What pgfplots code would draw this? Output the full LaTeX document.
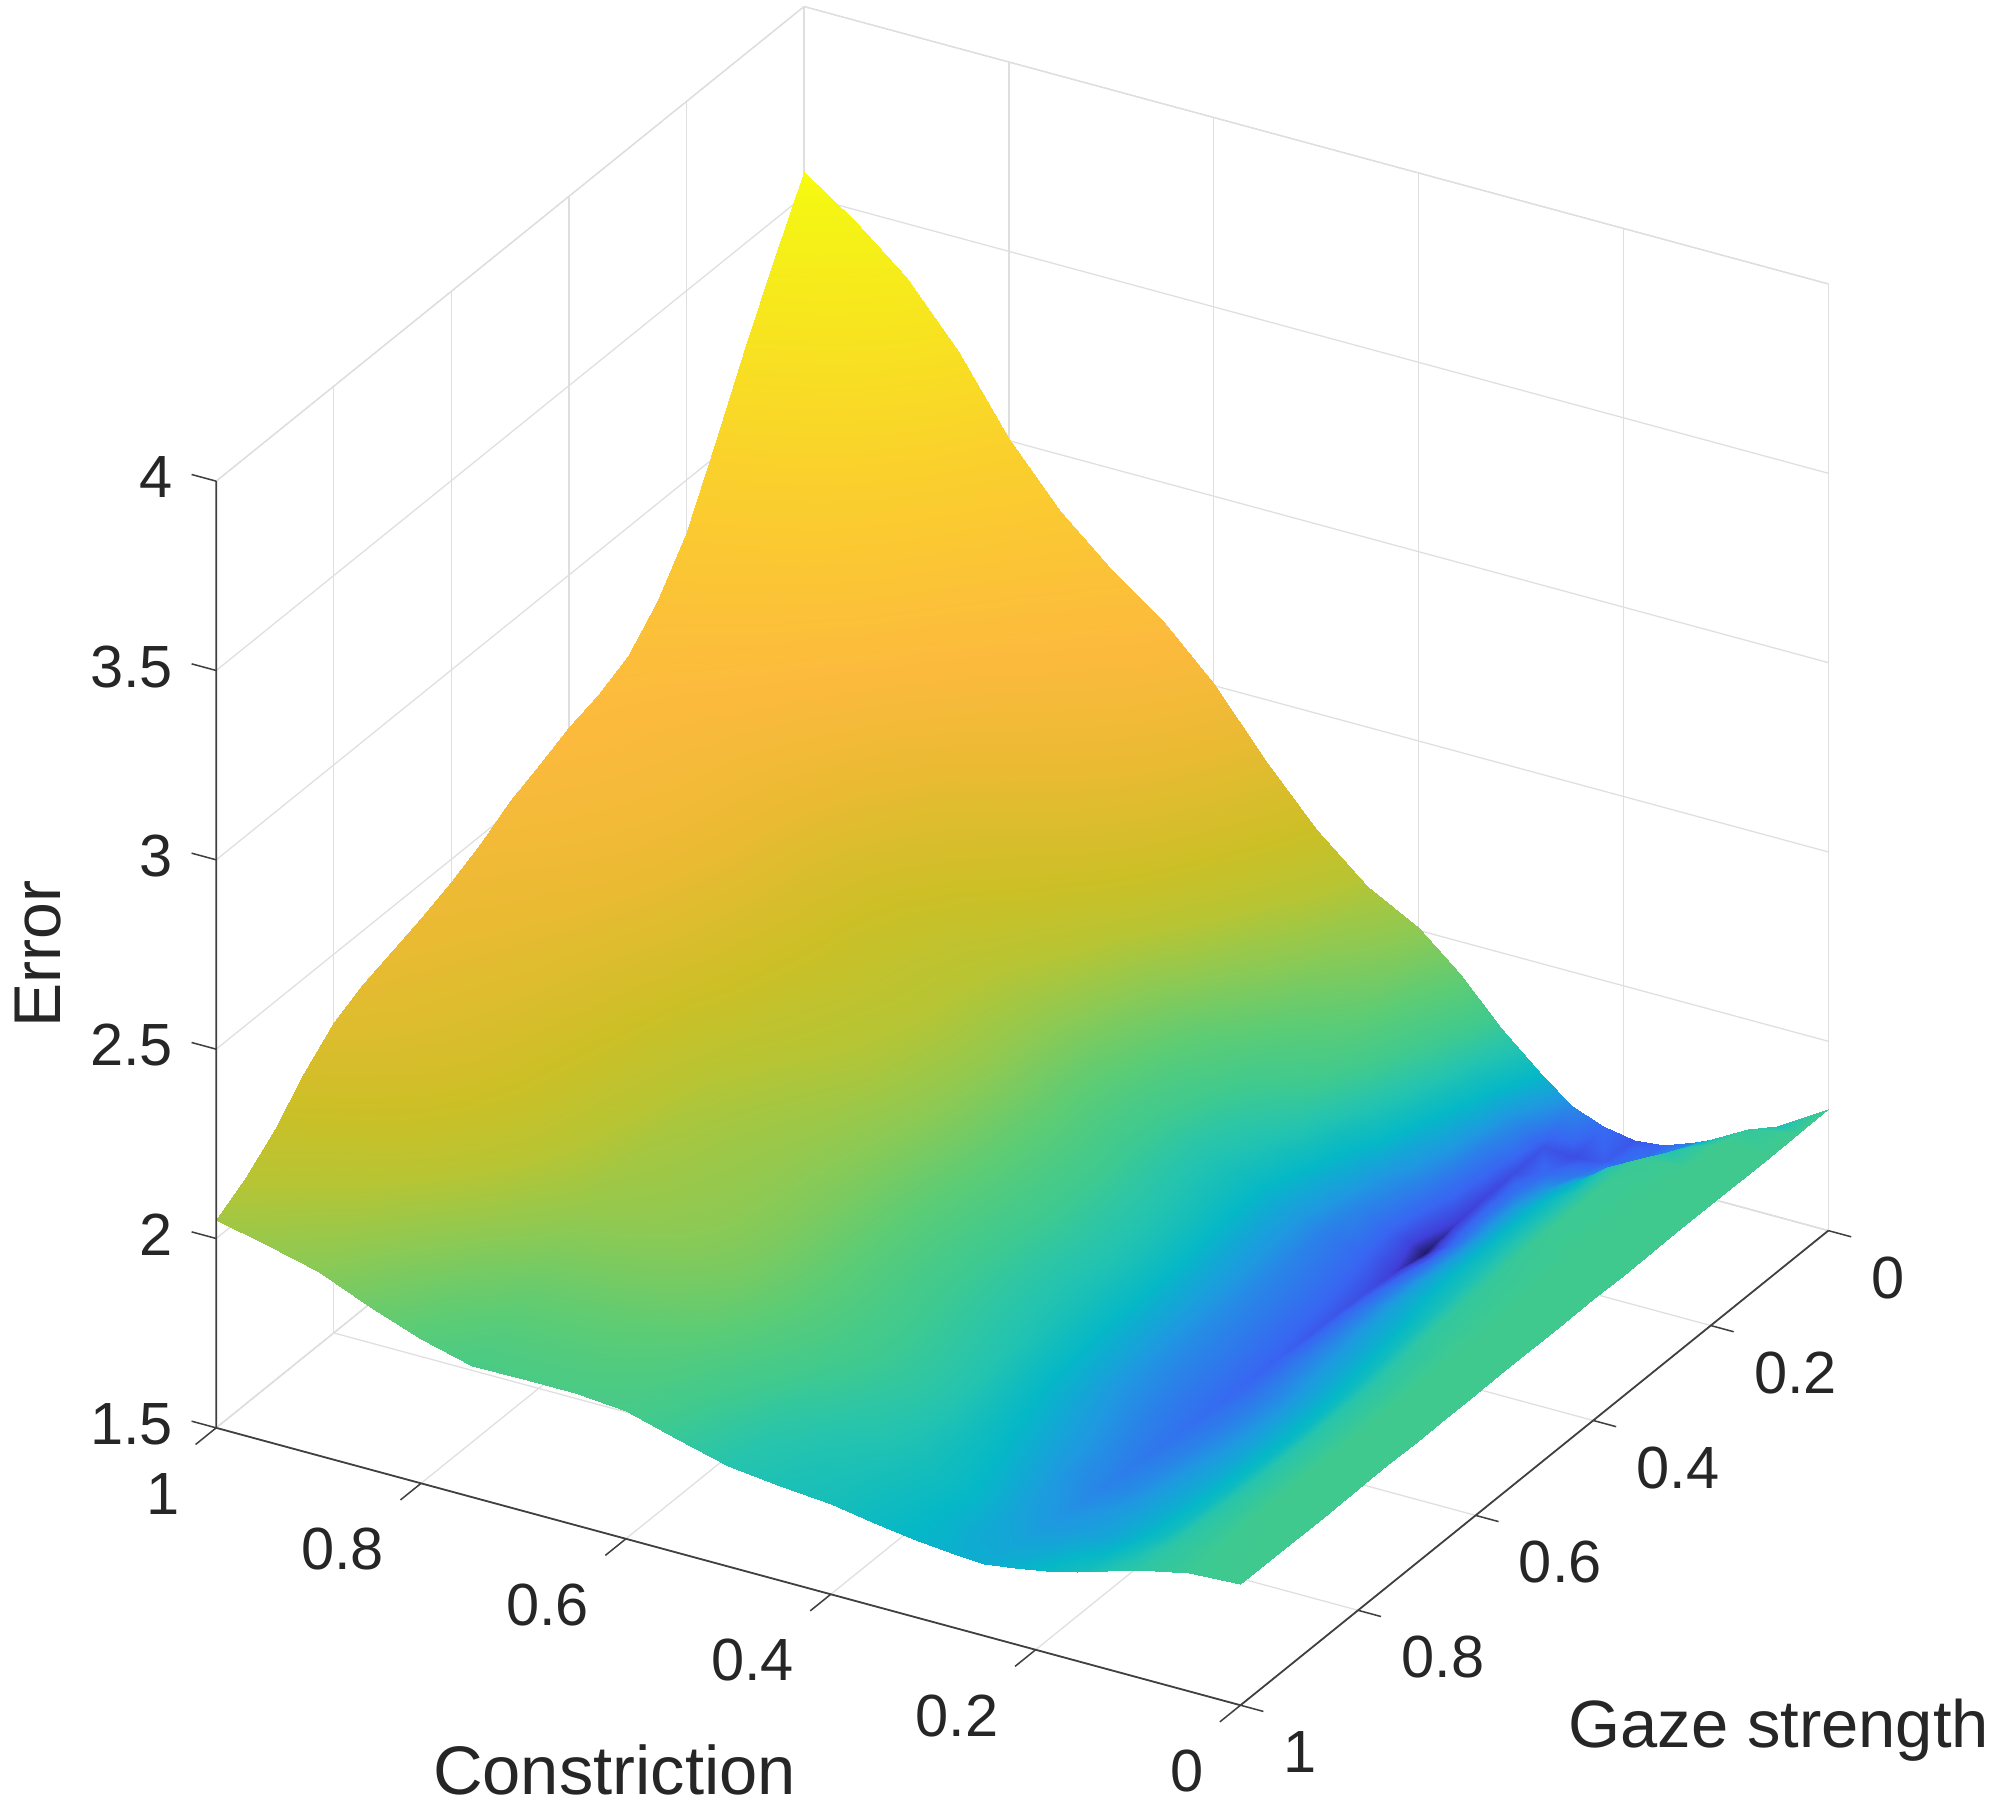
\documentclass[border=0pt]{standalone}
\usepackage{fontspec}
\setmainfont{Liberation Sans}
\usepackage{pgfplots}
\pgfplotsset{compat=1.18}
\definecolor{axdark}{gray}{0.25}
\definecolor{txt}{gray}{0.15}
\newcommand{\tickfont}{\fontsize{23.4}{28}\selectfont}
\begin{document}
\begin{tikzpicture}
\begin{axis}[
  x={(-402.5pt,109pt)}, y={(-231pt,-186.5pt)}, z={(0pt,148.8pt)},
  xmin=0, xmax=1, ymin=0, ymax=1, zmin=1.5, zmax=4,
  xtick={0,0.2,0.4,0.6,0.8,1}, ytick={0,0.2,0.4,0.6,0.8,1}, ztick={1.5,2,2.5,3,3.5,4},
  grid=major,
  grid style={line width=0.5pt, gray!25},
  axis line style={line width=0.5pt, gray!30},
  tick style={draw=none},
  major tick length=0pt,
  tick pos=left,
  clip=false,
  scaled ticks=false,
  /pgf/number format/assume math mode=true,
  /pgf/number format/fixed,
  ticklabel style={font=\tickfont, text=txt},
  xticklabel style={anchor=east, xshift=-11pt, yshift=-26pt},
  yticklabel style={anchor=west, xshift=13.5pt, yshift=-18.5pt},
  zticklabel style={anchor=east, xshift=-13.5pt, yshift=1.5pt},
  colormap={err}{
    rgb(0pt)=(0.13,0.10,0.40)
    rgb(15pt)=(0.25,0.25,0.85)
    rgb(38pt)=(0.22,0.40,0.95)
    rgb(90pt)=(0.12,0.60,0.88)
    rgb(135pt)=(0.02,0.72,0.78)
    rgb(195pt)=(0.15,0.77,0.68)
    rgb(248pt)=(0.25,0.79,0.56)
    rgb(325pt)=(0.36,0.80,0.46)
    rgb(425pt)=(0.55,0.79,0.33)
    rgb(525pt)=(0.72,0.77,0.20)
    rgb(625pt)=(0.80,0.75,0.15)
    rgb(825pt)=(0.92,0.73,0.20)
    rgb(1025pt)=(0.99,0.73,0.24)
    rgb(1425pt)=(0.98,0.82,0.17)
    rgb(1925pt)=(0.96,0.96,0.08)
    rgb(1991pt)=(0.976,0.983,0.054)
  },
  point meta min=1.572, point meta max=3.563,
]
\addplot3[surf, shader=interp, z buffer=sort, mesh/rows=21, mesh/cols=24] table[row sep=\\] {
0 0 1.82\\ .05 0 1.74\\ .1 0 1.675\\ .13 0 1.64\\ .16 0 1.61\\ .19 0 1.60\\ .22 0 1.615\\ .25 0 1.645\\ .28 0 1.705\\ .32 0 1.80\\ .36 0 1.915\\ .4 0 2.005\\ .45 0 2.08\\ .5 0 2.195\\ .55 0 2.34\\ .6 0 2.505\\ .65 0 2.635\\ .7 0 2.735\\ .75 0 2.85\\ .8 0 3.005\\ .85 0 3.20\\ .9 0 3.36\\ .95 0 3.47\\ 1 0 3.563\\
0 .05 1.82\\ .05 .05 1.795\\ .1 .05 1.72\\ .13 .05 1.66\\ .16 .05 1.625\\ .19 .05 1.605\\ .22 .05 1.595\\ .25 .05 1.60\\ .28 .05 1.655\\ .32 .05 1.75\\ .36 .05 1.855\\ .4 .05 1.957\\ .45 .05 2.024\\ .5 .05 2.13\\ .55 .05 2.265\\ .6 .05 2.419\\ .65 .05 2.539\\ .7 .05 2.63\\ .75 .05 2.735\\ .8 .05 2.879\\ .85 .05 3.063\\ .9 .05 3.213\\ .95 .05 3.315\\ 1 .05 3.40\\
0 .1 1.82\\ .05 .1 1.82\\ .1 .1 1.76\\ .13 .1 1.70\\ .16 .1 1.66\\ .19 .1 1.63\\ .22 .1 1.615\\ .25 .1 1.595\\ .28 .1 1.635\\ .32 .1 1.715\\ .36 .1 1.805\\ .4 .1 1.903\\ .45 .1 1.962\\ .5 .1 2.058\\ .55 .1 2.183\\ .6 .1 2.326\\ .65 .1 2.434\\ .7 .1 2.515\\ .75 .1 2.609\\ .8 .1 2.742\\ .85 .1 2.913\\ .9 .1 3.053\\ .95 .1 3.146\\ 1 .1 3.224\\
0 .15 1.82\\ .05 .15 1.82\\ .1 .15 1.805\\ .13 .15 1.76\\ .16 .15 1.70\\ .19 .15 1.66\\ .22 .15 1.625\\ .25 .15 1.59\\ .28 .15 1.625\\ .32 .15 1.685\\ .36 .15 1.765\\ .4 .15 1.847\\ .45 .15 1.897\\ .5 .15 1.983\\ .55 .15 2.096\\ .6 .15 2.227\\ .65 .15 2.325\\ .7 .15 2.395\\ .75 .15 2.478\\ .8 .15 2.599\\ .85 .15 2.758\\ .9 .15 2.887\\ .95 .15 2.971\\ 1 .15 3.04\\
0 .2 1.82\\ .05 .2 1.82\\ .1 .2 1.81\\ .13 .2 1.76\\ .16 .2 1.715\\ .19 .2 1.67\\ .22 .2 1.625\\ .25 .2 1.585\\ .28 .2 1.615\\ .32 .2 1.66\\ .36 .2 1.72\\ .4 .2 1.791\\ .45 .2 1.833\\ .5 .2 1.908\\ .55 .2 2.011\\ .6 .2 2.13\\ .65 .2 2.217\\ .7 .2 2.276\\ .75 .2 2.348\\ .8 .2 2.458\\ .85 .2 2.604\\ .9 .2 2.723\\ .95 .2 2.798\\ 1 .2 2.858\\
0 .25 1.82\\ .05 .25 1.82\\ .1 .25 1.81\\ .13 .25 1.76\\ .16 .25 1.715\\ .19 .25 1.67\\ .22 .25 1.62\\ .25 .25 1.572\\ .28 .25 1.605\\ .32 .25 1.645\\ .36 .25 1.695\\ .4 .25 1.751\\ .45 .25 1.797\\ .5 .25 1.865\\ .55 .25 1.96\\ .6 .25 2.071\\ .65 .25 2.149\\ .7 .25 2.202\\ .75 .25 2.265\\ .8 .25 2.368\\ .85 .25 2.504\\ .9 .25 2.616\\ .95 .25 2.685\\ 1 .25 2.74\\
0 .3 1.82\\ .05 .3 1.82\\ .1 .3 1.81\\ .13 .3 1.76\\ .16 .3 1.715\\ .19 .3 1.67\\ .22 .3 1.625\\ .25 .3 1.585\\ .28 .3 1.61\\ .32 .3 1.635\\ .36 .3 1.68\\ .4 .3 1.731\\ .45 .3 1.778\\ .5 .3 1.842\\ .55 .3 1.931\\ .6 .3 2.035\\ .65 .3 2.107\\ .7 .3 2.155\\ .75 .3 2.212\\ .8 .3 2.308\\ .85 .3 2.437\\ .9 .3 2.543\\ .95 .3 2.608\\ 1 .3 2.66\\
0 .35 1.82\\ .05 .35 1.82\\ .1 .35 1.805\\ .13 .35 1.755\\ .16 .35 1.715\\ .19 .35 1.675\\ .22 .35 1.632\\ .25 .35 1.595\\ .28 .35 1.615\\ .32 .35 1.64\\ .36 .35 1.68\\ .4 .35 1.732\\ .45 .35 1.778\\ .5 .35 1.838\\ .55 .35 1.924\\ .6 .35 2.024\\ .65 .35 2.091\\ .7 .35 2.136\\ .75 .35 2.189\\ .8 .35 2.281\\ .85 .35 2.404\\ .9 .35 2.507\\ .95 .35 2.57\\ 1 .35 2.62\\
0 .4 1.82\\ .05 .4 1.82\\ .1 .4 1.80\\ .13 .4 1.75\\ .16 .4 1.71\\ .19 .4 1.675\\ .22 .4 1.635\\ .25 .4 1.60\\ .28 .4 1.62\\ .32 .4 1.645\\ .36 .4 1.685\\ .4 .4 1.74\\ .45 .4 1.786\\ .5 .4 1.844\\ .55 .4 1.927\\ .6 .4 2.023\\ .65 .4 2.088\\ .7 .4 2.13\\ .75 .4 2.18\\ .8 .4 2.269\\ .85 .4 2.388\\ .9 .4 2.488\\ .95 .4 2.55\\ 1 .4 2.60\\
0 .45 1.82\\ .05 .45 1.82\\ .1 .45 1.795\\ .13 .45 1.742\\ .16 .45 1.70\\ .19 .45 1.67\\ .22 .45 1.635\\ .25 .45 1.603\\ .28 .45 1.622\\ .32 .45 1.648\\ .36 .45 1.69\\ .4 .45 1.744\\ .45 .45 1.788\\ .5 .45 1.843\\ .55 .45 1.923\\ .6 .45 2.015\\ .65 .45 2.075\\ .7 .45 2.114\\ .75 .45 2.161\\ .8 .45 2.245\\ .85 .45 2.359\\ .9 .45 2.456\\ .95 .45 2.516\\ 1 .45 2.565\\
0 .5 1.82\\ .05 .5 1.82\\ .1 .5 1.79\\ .13 .5 1.735\\ .16 .5 1.695\\ .19 .5 1.665\\ .22 .5 1.635\\ .25 .5 1.607\\ .28 .5 1.625\\ .32 .5 1.65\\ .36 .5 1.692\\ .4 .5 1.746\\ .45 .5 1.789\\ .5 .5 1.842\\ .55 .5 1.918\\ .6 .5 2.005\\ .65 .5 2.062\\ .7 .5 2.098\\ .75 .5 2.141\\ .8 .5 2.221\\ .85 .5 2.33\\ .9 .5 2.423\\ .95 .5 2.482\\ 1 .5 2.53\\
0 .55 1.82\\ .05 .55 1.82\\ .1 .55 1.782\\ .13 .55 1.727\\ .16 .55 1.69\\ .19 .55 1.66\\ .22 .55 1.633\\ .25 .55 1.61\\ .28 .55 1.628\\ .32 .55 1.652\\ .36 .55 1.694\\ .4 .55 1.743\\ .45 .55 1.784\\ .5 .55 1.833\\ .55 .55 1.905\\ .6 .55 1.988\\ .65 .55 2.04\\ .7 .55 2.072\\ .75 .55 2.11\\ .8 .55 2.185\\ .85 .55 2.288\\ .9 .55 2.378\\ .95 .55 2.434\\ 1 .55 2.48\\
0 .6 1.82\\ .05 .6 1.82\\ .1 .6 1.775\\ .13 .6 1.72\\ .16 .6 1.685\\ .19 .6 1.655\\ .22 .6 1.632\\ .25 .6 1.615\\ .28 .6 1.63\\ .32 .6 1.655\\ .36 .6 1.696\\ .4 .6 1.744\\ .45 .6 1.784\\ .5 .6 1.83\\ .55 .6 1.898\\ .6 .6 1.976\\ .65 .6 2.024\\ .7 .6 2.053\\ .75 .6 2.087\\ .8 .6 2.158\\ .85 .6 2.255\\ .9 .6 2.342\\ .95 .6 2.396\\ 1 .6 2.44\\
0 .65 1.82\\ .05 .65 1.82\\ .1 .65 1.772\\ .13 .65 1.717\\ .16 .65 1.685\\ .19 .65 1.657\\ .22 .65 1.635\\ .25 .65 1.62\\ .28 .65 1.635\\ .32 .65 1.66\\ .36 .65 1.70\\ .4 .65 1.749\\ .45 .65 1.788\\ .5 .65 1.831\\ .55 .65 1.896\\ .6 .65 1.969\\ .65 .65 2.014\\ .7 .65 2.04\\ .75 .65 2.071\\ .8 .65 2.138\\ .85 .65 2.23\\ .9 .65 2.313\\ .95 .65 2.366\\ 1 .65 2.41\\
0 .7 1.82\\ .05 .7 1.82\\ .1 .7 1.77\\ .13 .7 1.715\\ .16 .7 1.685\\ .19 .7 1.66\\ .22 .7 1.64\\ .25 .7 1.625\\ .28 .7 1.642\\ .32 .7 1.67\\ .36 .7 1.705\\ .4 .7 1.756\\ .45 .7 1.794\\ .5 .7 1.835\\ .55 .7 1.897\\ .6 .7 1.967\\ .65 .7 2.007\\ .7 .7 2.032\\ .75 .7 2.059\\ .8 .7 2.122\\ .85 .7 2.21\\ .9 .7 2.29\\ .95 .7 2.342\\ 1 .7 2.385\\
0 .75 1.82\\ .05 .75 1.82\\ .1 .75 1.77\\ .13 .75 1.717\\ .16 .75 1.687\\ .19 .75 1.665\\ .22 .75 1.645\\ .25 .75 1.632\\ .28 .75 1.65\\ .32 .75 1.68\\ .36 .75 1.715\\ .4 .75 1.763\\ .45 .75 1.80\\ .5 .75 1.839\\ .55 .75 1.898\\ .6 .75 1.964\\ .65 .75 2.001\\ .7 .75 2.023\\ .75 .75 2.047\\ .8 .75 2.107\\ .85 .75 2.19\\ .9 .75 2.268\\ .95 .75 2.318\\ 1 .75 2.36\\
0 .8 1.82\\ .05 .8 1.82\\ .1 .8 1.77\\ .13 .8 1.72\\ .16 .8 1.69\\ .19 .8 1.67\\ .22 .8 1.65\\ .25 .8 1.64\\ .28 .8 1.655\\ .32 .8 1.69\\ .36 .8 1.725\\ .4 .8 1.767\\ .45 .8 1.80\\ .5 .8 1.835\\ .55 .8 1.89\\ .6 .8 1.952\\ .65 .8 1.985\\ .7 .8 2.003\\ .75 .8 2.023\\ .8 .8 2.079\\ .85 .8 2.156\\ .9 .8 2.23\\ .95 .8 2.279\\ 1 .8 2.32\\
0 .85 1.82\\ .05 .85 1.82\\ .1 .85 1.772\\ .13 .85 1.725\\ .16 .85 1.695\\ .19 .85 1.675\\ .22 .85 1.66\\ .25 .85 1.652\\ .28 .85 1.668\\ .32 .85 1.70\\ .36 .85 1.73\\ .4 .85 1.76\\ .45 .85 1.786\\ .5 .85 1.816\\ .55 .85 1.866\\ .6 .85 1.922\\ .65 .85 1.949\\ .7 .85 1.963\\ .75 .85 1.977\\ .8 .85 2.027\\ .85 .85 2.098\\ .9 .85 2.167\\ .95 .85 2.212\\ 1 .85 2.25\\
0 .9 1.82\\ .05 .9 1.818\\ .1 .9 1.775\\ .13 .9 1.73\\ .16 .9 1.70\\ .19 .9 1.68\\ .22 .9 1.67\\ .25 .9 1.665\\ .28 .9 1.68\\ .32 .9 1.71\\ .36 .9 1.732\\ .4 .9 1.751\\ .45 .9 1.765\\ .5 .9 1.79\\ .55 .9 1.834\\ .6 .9 1.883\\ .65 .9 1.904\\ .7 .9 1.912\\ .75 .9 1.92\\ .8 .9 1.964\\ .85 .9 2.026\\ .9 .9 2.09\\ .95 .9 2.131\\ 1 .9 2.165\\
0 .95 1.82\\ .05 .95 1.815\\ .1 .95 1.78\\ .13 .95 1.745\\ .16 .95 1.715\\ .19 .95 1.70\\ .22 .95 1.685\\ .25 .95 1.68\\ .28 .95 1.685\\ .32 .95 1.705\\ .36 .95 1.725\\ .4 .95 1.742\\ .45 .95 1.753\\ .5 .95 1.773\\ .55 .95 1.813\\ .6 .95 1.856\\ .65 .95 1.871\\ .7 .95 1.875\\ .75 .95 1.878\\ .8 .95 1.915\\ .85 .95 1.971\\ .9 .95 2.03\\ .95 .95 2.068\\ 1 .95 2.10\\
0 1 1.82\\ .05 1 1.812\\ .1 1 1.785\\ .13 1 1.76\\ .16 1 1.735\\ .19 1 1.715\\ .22 1 1.70\\ .25 1 1.69\\ .28 1 1.695\\ .32 1 1.705\\ .36 1 1.72\\ .4 1 1.739\\ .45 1 1.748\\ .5 1 1.765\\ .55 1 1.80\\ .6 1 1.838\\ .65 1 1.849\\ .7 1 1.849\\ .75 1 1.847\\ .8 1 1.88\\ .85 1 1.93\\ .9 1 1.985\\ .95 1 2.02\\ 1 1 2.05\\
};
% front axis lines and outward ticks
\addplot3[axdark, line width=0.7pt, forget plot] coordinates {(1,1,4) (1,1,1.5) (0,1,1.5) (0,0,1.5)};
\addplot3[axdark, line width=0.6pt, forget plot] coordinates {
(1,1,1.5) (1,1.035,1.5)

(0.8,1,1.5) (0.8,1.035,1.5)

(0.6,1,1.5) (0.6,1.035,1.5)

(0.4,1,1.5) (0.4,1.035,1.5)

(0.2,1,1.5) (0.2,1.035,1.5)

(0,1,1.5) (0,1.035,1.5)

(0,1,1.5) (-0.0224,1,1.5)

(0,0.8,1.5) (-0.0224,0.8,1.5)

(0,0.6,1.5) (-0.0224,0.6,1.5)

(0,0.4,1.5) (-0.0224,0.4,1.5)

(0,0.2,1.5) (-0.0224,0.2,1.5)

(0,0,1.5) (-0.0224,0,1.5)

(1,1,1.5) (1.024,1,1.5)

(1,1,2) (1.024,1,2)

(1,1,2.5) (1.024,1,2.5)

(1,1,3) (1.024,1,3)

(1,1,3.5) (1.024,1,3.5)

(1,1,4) (1.024,1,4)
};
\node[font=\fontsize{27}{32}\selectfont, text=txt] at (axis cs:1.185,0,-0.793) {Constriction};
\node[font=\fontsize{26.3}{32}\selectfont, text=txt] at (axis cs:0.0484,0,0.144) {Gaze strength};
\node[font=\fontsize{26}{32}\selectfont, text=txt, rotate=90] at (axis cs:1.748,0,0.949) {Error};
\coordinate (bl) at (axis cs:1.785,0,-1.329);
\coordinate (tr) at (axis cs:-0.1627,0,4.869);
\end{axis}
\pgfresetboundingbox
\useasboundingbox (bl) rectangle (tr);
\end{tikzpicture}
\end{document}
